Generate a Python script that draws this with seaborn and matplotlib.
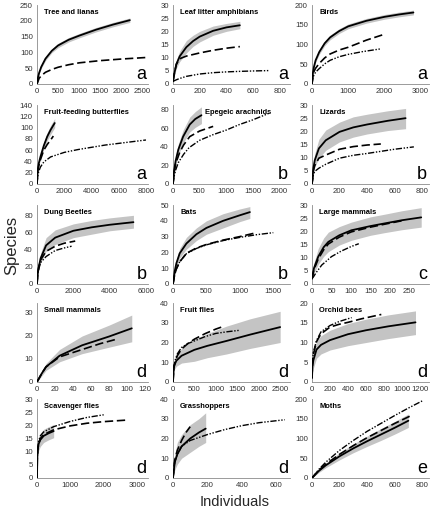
import matplotlib
matplotlib.use("Agg")
import matplotlib.pyplot as plt
import seaborn as sns

sns.set_style("white")
plt.rcParams['font.family'] = ['Liberation Sans', 'DejaVu Sans']

# ---------------- data ----------------
# 1 Tree and lianas
tree_sx = [0, 25, 50, 100, 200, 350, 500, 750, 1000, 1400, 1800, 2200]
tree_sy = [0, 22, 35, 54, 80, 105, 122, 140, 153, 172, 188, 202]
tree_hi = [0, 25, 39, 59, 86, 111, 129, 147, 160, 179, 195, 209]
tree_lo = [0, 19, 31, 49, 74, 99, 115, 133, 146, 165, 181, 195]
tree_dx = [0, 50, 100, 200, 350, 500, 750, 1000, 1500, 2000, 2600]
tree_dy = [0, 18, 26, 37, 46, 53, 61, 67, 74, 79, 84]
# 2 Leaf litter amphibians
leaf_sx = [0, 10, 25, 50, 100, 150, 200, 300, 400, 500]
leaf_sy = [1, 4, 7.5, 10.5, 14, 16.3, 18, 20.2, 21.5, 22.3]
leaf_hi = [1, 5, 9, 12.5, 16.5, 18.5, 20, 22, 23, 23.8]
leaf_lo = [1, 3, 6, 8.5, 11.8, 14.3, 16, 18.5, 20, 21]
leaf_dx = [0, 10, 25, 50, 100, 200, 300, 400, 500]
leaf_dy = [1, 4, 7.5, 9.6, 10.6, 11.8, 12.8, 13.6, 14.2]
leaf_ddx = [0, 25, 50, 100, 200, 300, 400, 500, 600, 720]
leaf_ddy = [1, 1.6, 2.1, 2.9, 3.8, 4.3, 4.6, 4.8, 4.95, 5.1]
# 3 Birds
birds_sx = [0, 25, 50, 100, 200, 350, 500, 750, 1000, 1500, 2000, 2400, 2800]
birds_sy = [0, 28, 42, 60, 81, 103, 118, 134, 146, 160, 170, 176, 181]
birds_hi = [0, 31, 46, 65, 87, 109, 124, 140, 152, 166, 176, 182, 187]
birds_lo = [0, 25, 38, 55, 75, 97, 112, 128, 140, 154, 164, 170, 175]
birds_dx = [0, 25, 50, 100, 200, 350, 500, 750, 1000, 1500, 2000]
birds_dy = [0, 22, 31, 40, 52, 66, 76, 86, 93, 111, 126]
birds_ddx = [0, 25, 50, 100, 200, 350, 500, 750, 1000, 1400, 1900]
birds_ddy = [0, 16, 22, 30, 39, 51, 60, 69, 75, 82, 89]
# 4 Fruit-feeding butterflies
butt_sx = [0, 50, 125, 250, 500, 750, 1000, 1300]
butt_sy = [0, 24, 36, 48, 68, 84, 96, 108]
butt_hi = [0, 27, 40, 53, 74, 91, 104, 116]
butt_lo = [0, 21, 32, 43, 62, 77, 88, 100]
butt_dx = [0, 50, 125, 250, 500, 750, 1000, 1200]
butt_dy = [0, 22, 32, 43, 60, 70, 78, 85]
butt_ddx = [0, 50, 125, 250, 500, 1000, 2000, 3000, 4000, 5000, 6000, 7000, 8000]
butt_ddy = [0, 13, 22, 30, 39, 48, 56, 61, 65, 69, 72, 75, 78]
# 5 Epegeic arachnids
epe_sx = [0, 20, 50, 100, 190, 315, 420, 535]
epe_sy = [0, 14, 25, 37, 51, 64, 70, 74]
epe_hi = [0, 17, 30, 43, 58, 72, 78, 83]
epe_lo = [0, 11, 20, 31, 44, 56, 61, 65]
epe_dx = [0, 20, 50, 126, 200, 315, 500, 755]
epe_dy = [0, 12, 22, 34, 42, 51, 57, 62]
epe_ddx = [0, 20, 50, 100, 200, 300, 500, 750, 1000, 1250, 1500, 1800]
epe_ddy = [0, 8, 15, 23, 32, 39, 47, 53, 58, 64, 69, 76]
# 6 Lizards
liz_sx = [0, 10, 20, 50, 100, 200, 300, 400, 550, 680]
liz_sy = [0, 6, 9, 13.5, 16.6, 19.8, 21.5, 22.6, 24, 25]
liz_hi = [0, 8, 11.5, 17, 20.5, 23.5, 25.5, 26.5, 27.8, 28.7]
liz_lo = [0, 4, 6.5, 9.8, 12.8, 16, 17.8, 19, 20.3, 21]
liz_dx = [0, 10, 20, 50, 100, 200, 300, 400, 500]
liz_dy = [0, 5, 7, 9.8, 11, 13.2, 14.2, 14.8, 15.2]
liz_ddx = [0, 10, 20, 50, 100, 200, 300, 400, 500, 600, 740]
liz_ddy = [0, 3.5, 4.8, 6, 7.5, 9.8, 10.9, 11.6, 12.4, 13.2, 14.1]
# 7 Dung beetles
dung_sx = [0, 50, 100, 200, 500, 1000, 2000, 3000, 4000, 5300]
dung_sy = [0, 14, 20, 30, 45, 54, 62, 66, 69, 72]
dung_hi = [0, 16, 24, 36, 54, 63, 70, 74, 77, 80]
dung_lo = [0, 12, 17, 25, 38, 46, 54, 58, 62, 65]
dung_dx = [0, 50, 100, 200, 500, 1000, 1500, 2100]
dung_dy = [0, 14, 20, 28, 38, 44, 47.5, 50]
dung_ddx = [0, 50, 100, 200, 500, 1000, 1500, 1900]
dung_ddy = [0, 13, 18, 25, 32, 39, 42, 44]
# 8 Bats
bats_sx = [0, 25, 50, 100, 200, 350, 500, 750, 1000, 1150]
bats_sy = [0, 8, 13, 19.4, 25.6, 31.5, 35.5, 40, 43.5, 45.5]
bats_hi = [0, 10, 15.5, 22.5, 29.5, 35.5, 40, 44.5, 47.5, 49]
bats_lo = [0, 6, 10.5, 16.5, 22, 27.5, 31.5, 35.5, 39.5, 41.5]
bats_dx = [0, 25, 50, 100, 200, 350, 500, 750, 1000, 1250]
bats_dy = [0, 6, 9.5, 14, 19.4, 22.8, 25, 27.8, 30, 32.5]
bats_ddx = [0, 25, 50, 100, 200, 350, 500, 750, 1000, 1250, 1500]
bats_ddy = [0, 6, 9.5, 14, 19.2, 22.5, 24.8, 27.5, 29.5, 31.2, 32.5]
# 9 Large mammals
lm_sx = [0, 5, 16, 30, 42, 70, 101, 150, 186, 230, 280]
lm_sy = [2, 6, 10.4, 14, 16, 18.5, 20.4, 22, 23, 24.2, 25.3]
lm_hi = [2, 8, 13.5, 17.5, 19.7, 21.8, 23.5, 25.5, 26.5, 27.8, 29]
lm_lo = [2, 4, 7.5, 10.5, 12.3, 14.8, 16.6, 18.5, 19.5, 20.6, 21.6]
lm_dx = [0, 5, 16, 30, 42, 70, 101, 150, 186, 230]
lm_dy = [2, 5.5, 9.5, 13, 15.2, 17.8, 19.8, 21.6, 22.7, 24]
lm_ddx = [0, 5, 10, 25, 50, 75, 100, 120]
lm_ddy = [2, 3, 4.2, 7.2, 10.4, 12.5, 14.2, 15.3]
# 10 Small mammals
sm_sx = [0, 5, 10, 25, 50, 80, 105]
sm_sy = [0, 3.5, 6.5, 11.3, 15.8, 19.6, 23.1]
sm_hi = [0, 4.5, 8, 14, 19.8, 24.5, 28.8]
sm_lo = [0, 2.5, 5, 8.7, 12.2, 15, 17.3]
sm_dx = [0, 5, 10, 25, 51, 70, 87]
sm_dy = [0, 3.5, 6.5, 10.8, 14.1, 16.5, 18.3]
# 11 Fruit flies
ff_sx = [0, 20, 80, 200, 500, 800, 1250, 1800, 2500]
ff_sy = [0, 8, 10.8, 13.3, 16.3, 18.3, 20.8, 24, 27.8]
ff_hi = [0, 10, 13.5, 17, 21.7, 24.5, 28.3, 32, 35.8]
ff_lo = [0, 6, 8, 9.6, 10.5, 12.3, 14.2, 17, 20]
ff_dx = [0, 20, 50, 100, 200, 350, 500, 750, 1000, 1130]
ff_dy = [0, 7, 10, 13.3, 16.7, 19.5, 21.7, 24.5, 26.8, 27.8]
ff_ddx = [0, 20, 50, 100, 200, 350, 500, 750, 1000, 1250, 1560]
ff_ddy = [0, 7.5, 11, 14.2, 17.5, 19.5, 20.8, 23, 24.6, 25.4, 26.2]
# 12 Orchid bees
orch_sx = [0, 5, 15, 50, 100, 200, 400, 600, 850, 1150]
orch_sy = [1, 4, 5.5, 8.2, 9.4, 10.6, 12.1, 13.1, 14.1, 15.1]
orch_hi = [1, 5.5, 7.5, 10.3, 11.7, 13.1, 14.8, 15.9, 17, 18]
orch_lo = [1, 2.5, 3.5, 6, 7.1, 8.1, 9.2, 10, 11, 12]
orch_dx = [0, 5, 15, 50, 100, 200, 300, 400, 550, 770]
orch_dy = [1, 4.5, 7, 10.2, 12.2, 13.9, 14.6, 15.1, 16, 17.1]
orch_ddx = [0, 5, 15, 50, 100, 200, 300, 440]
orch_ddy = [1, 5, 7.5, 10.5, 12.7, 14.3, 15.3, 16.3]
# 13 Scavenger flies
scav_sx = [0, 10, 25, 50, 100, 200, 350, 500]
scav_sy = [0, 8, 11, 13, 14.5, 16, 17, 17.8]
scav_hi = [0, 10, 13, 15.5, 17, 18.5, 19.5, 20.3]
scav_lo = [0, 6, 9, 10.5, 12, 13.5, 14.5, 15.3]
scav_dx = [0, 10, 25, 50, 100, 200, 500, 1000, 1500, 2000, 2700]
scav_dy = [0, 8, 11, 13, 15, 16.5, 18.3, 19.8, 20.8, 21.4, 22]
scav_ddx = [0, 10, 25, 50, 100, 200, 500, 1000, 1500, 2000]
scav_ddy = [0, 8, 11.5, 14, 16, 17.5, 19.5, 21.5, 23, 24]
# 14 Grasshoppers
gh_sx = [0, 10, 25, 50, 100, 150, 190]
gh_sy = [0, 8, 12, 16, 20, 23, 25]
gh_hi = [0, 12, 18, 22, 27, 30, 33]
gh_lo = [0, 4, 7, 10, 13, 16, 18]
gh_dx = [0, 10, 25, 50, 75, 100]
gh_dy = [0, 9, 14, 19, 23, 26]
gh_ddx = [0, 10, 25, 50, 100, 200, 300, 400, 500, 650]
gh_ddy = [0, 8, 12, 16, 19, 22, 24.5, 26.5, 28, 29.5]
# 15 Moths
moth_sx = [0, 50, 100, 200, 300, 400, 500, 600, 700]
moth_sy = [0, 18, 32, 55, 75, 93, 110, 127, 145]
moth_hi = [0, 22, 38, 64, 86, 106, 125, 143, 162]
moth_lo = [0, 14, 26, 46, 64, 80, 95, 111, 128]
moth_dx = [0, 50, 100, 200, 300, 400, 500, 600, 720]
moth_dy = [0, 20, 35, 60, 82, 102, 120, 138, 158]
moth_ddx = [0, 50, 100, 200, 300, 400, 500, 600, 700, 800]
moth_ddy = [0, 22, 40, 70, 95, 118, 138, 158, 177, 195]

titles = ["Tree and lianas", "Leaf litter amphibians", "Birds",
          "Fruit-feeding butterflies", "Epegeic arachnids", "Lizards",
          "Dung Beetles", "Bats", "Large mammals",
          "Small mammals", "Fruit flies", "Orchid bees",
          "Scavenger flies", "Grasshoppers", "Moths"]
letters = ["a", "a", "a", "a", "b", "b", "b", "b", "c", "d", "d", "d", "d", "d", "e"]
xticks = [[0, 500, 1000, 1500, 2000, 2500], [0, 200, 400, 600, 800], [0, 1000, 2000, 3000],
          [0, 2000, 4000, 6000, 8000], [0, 500, 1000, 1500, 2000], [0, 200, 400, 600, 800],
          [0, 2000, 4000, 6000], [0, 500, 1000, 1500], [0, 50, 100, 150, 200, 250],
          [0, 20, 40, 60, 80, 100, 120], [0, 500, 1000, 1500, 2000, 2500], [0, 200, 400, 600, 800, 1000, 1200],
          [0, 1000, 2000, 3000], [0, 200, 400, 600], [0, 200, 400, 600, 800]]
yticks = [[0, 50, 100, 150, 200, 250], [0, 5, 10, 15, 20, 25, 30], [0, 50, 100, 150, 200],
          [0, 20, 40, 60, 80, 100, 120, 140], [0, 20, 40, 60, 80], [0, 5, 10, 15, 20, 25, 30],
          [0, 20, 40, 60, 80], [0, 10, 20, 30, 40, 50], [0, 5, 10, 15, 20, 25, 30],
          [0, 10, 20, 30], [0, 10, 20, 30, 40], [0, 5, 10, 15, 20],
          [0, 5, 10, 15, 20, 25, 30], [0, 10, 20, 30, 40], [0, 50, 100, 150, 200]]

solids = [(tree_sx, tree_sy, tree_lo, tree_hi), (leaf_sx, leaf_sy, leaf_lo, leaf_hi),
          (birds_sx, birds_sy, birds_lo, birds_hi), (butt_sx, butt_sy, butt_lo, butt_hi),
          (epe_sx, epe_sy, epe_lo, epe_hi), (liz_sx, liz_sy, liz_lo, liz_hi),
          (dung_sx, dung_sy, dung_lo, dung_hi), (bats_sx, bats_sy, bats_lo, bats_hi),
          (lm_sx, lm_sy, lm_lo, lm_hi), (sm_sx, sm_sy, sm_lo, sm_hi),
          (ff_sx, ff_sy, ff_lo, ff_hi), (orch_sx, orch_sy, orch_lo, orch_hi),
          (scav_sx, scav_sy, scav_lo, scav_hi), (gh_sx, gh_sy, gh_lo, gh_hi),
          (moth_sx, moth_sy, moth_lo, moth_hi)]
dashes = [(tree_dx, tree_dy), (leaf_dx, leaf_dy), (birds_dx, birds_dy), (butt_dx, butt_dy),
          (epe_dx, epe_dy), (liz_dx, liz_dy), (dung_dx, dung_dy), (bats_dx, bats_dy),
          (lm_dx, lm_dy), (sm_dx, sm_dy), (ff_dx, ff_dy), (orch_dx, orch_dy),
          (scav_dx, scav_dy), (gh_dx, gh_dy), (moth_dx, moth_dy)]
dashdots = [None, (leaf_ddx, leaf_ddy), (birds_ddx, birds_ddy), (butt_ddx, butt_ddy),
            (epe_ddx, epe_ddy), (liz_ddx, liz_ddy), (dung_ddx, dung_ddy), (bats_ddx, bats_ddy),
            (lm_ddx, lm_ddy), None, (ff_ddx, ff_ddy), (orch_ddx, orch_ddy),
            (scav_ddx, scav_ddy), (gh_ddx, gh_ddy), (moth_ddx, moth_ddy)]

# ---------------- layout ----------------
W, H = 432, 513
xmax = [2630, 875, 3230, 8150, 2200, 850, 6100, 1750, 300, 123, 2730, 1300, 3330, 680, 850]
ymax = [250, 30, 200, 140, 85, 30, 92, 50, 30, 34, 40, 20, 30, 40, 200]
col_px = [(37, 111), (173, 117), (312, 117)]
row_bottom = [84, 184, 284, 382, 478]
ax_h = 79
title_pos = {4: (0.27, 0.9)}

fig = plt.figure(figsize=(W / 100, H / 100), dpi=100)
for i in range(15):
    r, c = divmod(i, 3)
    left, width = col_px[c]
    bottom = row_bottom[r]
    ax = fig.add_axes([left / W, (H - bottom) / H, width / W, ax_h / H])
    sx, sy, lo, hi = solids[i]
    ax.fill_between(sx, lo, hi, color="#c4c4c4", lw=0, zorder=1)
    sns.lineplot(x=sx, y=sy, ax=ax, color="black", lw=1.3, estimator=None, sort=False, zorder=4)
    if dashes[i] is not None:
        dx, dy = dashes[i]
        sns.lineplot(x=dx, y=dy, ax=ax, color="black", lw=1.2, estimator=None, sort=False, zorder=3)
        ax.lines[-1].set_dashes([5, 2.2])
    if dashdots[i] is not None:
        ddx, ddy = dashdots[i]
        sns.lineplot(x=ddx, y=ddy, ax=ax, color="black", lw=1.0, estimator=None, sort=False, zorder=3)
        ax.lines[-1].set_dashes([4.5, 1.2, 1.0, 1.2, 1.0, 1.2])
    ax.set_xlim(0, xmax[i])
    ax.set_ylim(0, ymax[i])
    ax.set_xticks(xticks[i])
    ax.set_yticks(yticks[i])
    ax.set_xlabel("")
    ax.set_ylabel("")
    ax.tick_params(labelsize=5.6, length=1.5, width=0.5, pad=1.5, colors="#333333")
    for s in ["top", "right"]:
        ax.spines[s].set_visible(False)
    for s in ["left", "bottom"]:
        ax.spines[s].set_color("#8a8a8a")
        ax.spines[s].set_linewidth(0.6)
    tx, ty = title_pos.get(i, (0.06, 0.9))
    ax.text(tx, ty, titles[i], transform=ax.transAxes, fontsize=5.4, fontweight="bold",
            ha="left", va="center", color="black")
    ax.text(0.985, 0.01, letters[i], transform=ax.transAxes, fontsize=13,
            ha="right", va="bottom", color="black")

fig.text(12 / W, 1 - 245 / H, "Species", rotation=90, fontsize=12, ha="center", va="center")
fig.text(235 / W, 1 - 502 / H, "Individuals", fontsize=10.5, ha="center", va="center")

fig.savefig("out.png", dpi=100)
